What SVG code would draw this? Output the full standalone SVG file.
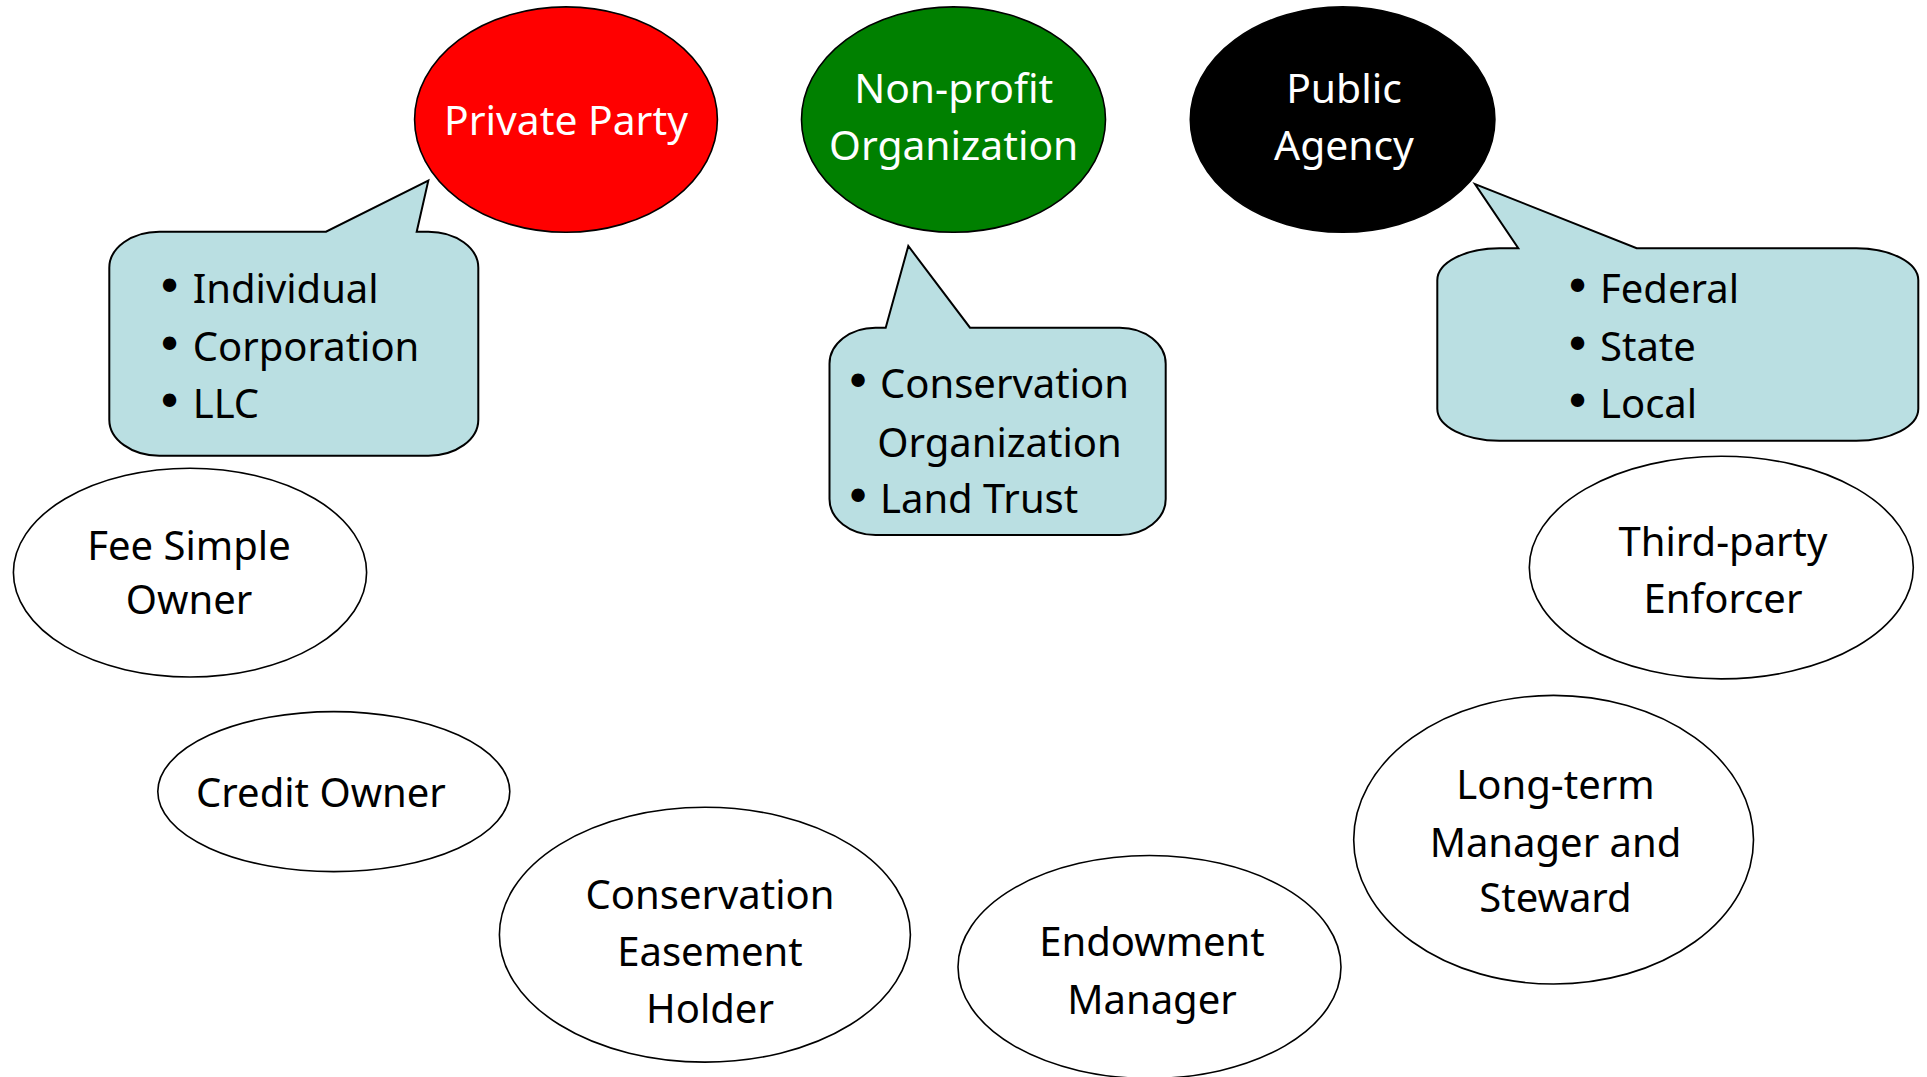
<svg xmlns="http://www.w3.org/2000/svg" width="1927" height="1077" viewBox="0 0 1927 1077">
<style>
.bg{fill:#ffffff}
.node{stroke:#000;stroke-width:1.6}
.plain{fill:#ffffff}
.callout{fill:#BADFE2;stroke:#000;stroke-width:2;stroke-linejoin:miter}
text{font-family:"Noto Sans","Liberation Sans",sans-serif;font-size:40px}
.w{fill:#ffffff;font-size:40.8px}
.k{fill:#000000}
.c{text-anchor:middle}
.b{font-family:"DejaVu Sans",sans-serif;font-size:46px}
</style>
<rect class="bg" x="0" y="0" width="1927" height="1077"/>
<g id="private-party">
<ellipse class="node" cx="566" cy="119.6" rx="151.4" ry="112.7" fill="#FF0000"/>
<text class="w c" x="566" y="135">Private Party</text>
</g>
<g id="non-profit">
<ellipse class="node" cx="953.5" cy="119.6" rx="152" ry="112.7" fill="#008000"/>
<text class="w c" x="953.7" y="103">Non-profit</text>
<text class="w c" x="953.7" y="160">Organization</text>
</g>
<g id="public-agency">
<ellipse class="node" cx="1342.6" cy="119.6" rx="152.3" ry="112.7" fill="#000000"/>
<text class="w c" x="1344" y="103">Public</text>
<text class="w c" x="1344" y="160">Agency</text>
</g>
<g id="callout-private">
<path class="callout" d="M159.3,231.7 L326,231.7 L428.3,180.7 L416.7,231.7 L428.3,231.7 A50,36 0 0 1 478.3,267.7 L478.3,419.7 A50,36 0 0 1 428.3,455.7 L159.3,455.7 A50,36 0 0 1 109.3,419.7 L109.3,267.7 A50,36 0 0 1 159.3,231.7 Z"/>
<text class="k"><tspan class="b" x="156" y="303.3">•</tspan><tspan x="192.7" y="303.3">Individual</tspan></text>
<text class="k"><tspan class="b" x="156" y="360.5">•</tspan><tspan x="192.7" y="360.5">Corporation</tspan></text>
<text class="k"><tspan class="b" x="156" y="417.5">•</tspan><tspan x="192.7" y="417.5">LLC</tspan></text>
</g>
<g id="callout-nonprofit">
<path class="callout" d="M875.5,327.7 L885.7,327.7 L908.3,246 L970,327.7 L1119.7,327.7 A46,36 0 0 1 1165.7,363.7 L1165.7,499 A46,36 0 0 1 1119.7,535 L875.5,535 A46,36 0 0 1 829.5,499 L829.5,363.7 A46,36 0 0 1 875.5,327.7 Z"/>
<text class="k"><tspan class="b" x="844.5" y="398.3">•</tspan><tspan x="880" y="398.3">Conservation</tspan></text>
<text class="k" x="877.3" y="456.7">Organization</text>
<text class="k"><tspan class="b" x="844.5" y="513.3">•</tspan><tspan x="880" y="513.3">Land Trust</tspan></text>
</g>
<g id="callout-public">
<path class="callout" d="M1499.3,248.3 L1518.3,248.3 L1475,184 L1636.7,248.3 L1856.3,248.3 A62,32 0 0 1 1918.3,280.3 L1918.3,408.7 A62,32 0 0 1 1856.3,440.7 L1499.3,440.7 A62,32 0 0 1 1437.3,408.7 L1437.3,280.3 A62,32 0 0 1 1499.3,248.3 Z"/>
<text class="k"><tspan class="b" x="1564" y="303.3">•</tspan><tspan x="1600" y="303.3">Federal</tspan></text>
<text class="k"><tspan class="b" x="1564" y="360.7">•</tspan><tspan x="1600" y="360.7">State</tspan></text>
<text class="k"><tspan class="b" x="1564" y="418.3">•</tspan><tspan x="1600" y="418.3">Local</tspan></text>
</g>
<g id="fee-simple-owner">
<ellipse class="node plain" cx="190" cy="572.6" rx="176.6" ry="104.4"/>
<text class="k c" x="189" y="560">Fee Simple</text>
<text class="k c" x="189" y="614">Owner</text>
</g>
<g id="credit-owner">
<ellipse class="node plain" cx="333.8" cy="791.6" rx="176" ry="80"/>
<text class="k c" x="321" y="807.3">Credit Owner</text>
</g>
<g id="conservation-easement-holder">
<ellipse class="node plain" cx="704.9" cy="934.7" rx="205.5" ry="127.4"/>
<text class="k c" x="710" y="908.5">Conservation</text>
<text class="k c" x="710" y="966">Easement</text>
<text class="k c" x="710" y="1023.3">Holder</text>
</g>
<g id="endowment-manager">
<ellipse class="node plain" cx="1149.5" cy="967" rx="191.5" ry="111.5"/>
<text class="k c" x="1152" y="956.4">Endowment</text>
<text class="k c" x="1152" y="1014">Manager</text>
</g>
<g id="long-term-manager">
<ellipse class="node plain" cx="1553.6" cy="839.7" rx="199.9" ry="144.3"/>
<text class="k c" x="1555.5" y="799.3">Long-term</text>
<text class="k c" x="1555.5" y="856.7">Manager and</text>
<text class="k c" x="1555.5" y="912">Steward</text>
</g>
<g id="third-party-enforcer">
<ellipse class="node plain" cx="1721.3" cy="567.6" rx="192" ry="111.3"/>
<text class="k c" x="1723" y="556">Third-party</text>
<text class="k c" x="1723" y="613.3">Enforcer</text>
</g>
<g id="connectors"></g>
</svg>
